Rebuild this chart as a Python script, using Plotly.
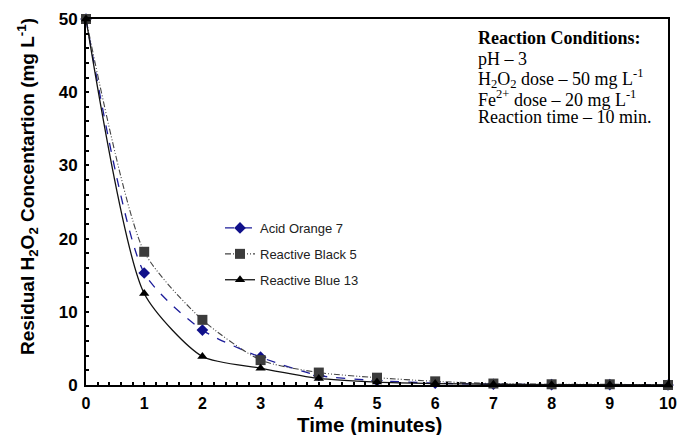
import plotly.graph_objects as go

time_min = [0, 1, 2, 3, 4, 5, 6, 7, 8, 9, 10]
acid_orange_7 = [50, 15.3, 7.5, 3.8, 1.3, 0.6, 0.25, 0.1, 0.05, 0.05, 0.0]
reactive_black_5 = [50, 18.2, 8.9, 3.4, 1.7, 1.0, 0.5, 0.2, 0.1, 0.1, 0.0]
reactive_blue_13 = [50, 12.5, 3.9, 2.3, 0.9, 0.4, 0.2, 0.1, 0.05, 0.05, 0.0]

x_ticks = [0, 1, 2, 3, 4, 5, 6, 7, 8, 9, 10]
y_ticks = [0, 10, 20, 30, 40, 50]

conditions = [
    "<b>Reaction Conditions:</b>",
    "pH – 3",
    "H<sub>2</sub>O<sub>2</sub> dose – 50 mg L<sup>-1</sup>",
    "Fe<sup>2+</sup> dose – 20 mg L<sup>-1</sup>",
    "Reaction time – 10 min.",
]

W, H = 679, 435
# plot area in screen pixels
L, R, T, B = 86, 668, 19, 385
PW, PH = R - L, B - T
SMOOTH = 0.65


def px(xs):
    return (xs - L) / PW


def py(ys):
    return (B - ys) / PH


fig = go.Figure()
fig.add_trace(go.Scatter(
    x=time_min, y=acid_orange_7, name="Acid Orange 7", mode="lines+markers", legendgroup="a",
    line=dict(color="#1c1c9a", width=1.3, dash="dash", shape="spline", smoothing=SMOOTH),
    marker=dict(symbol="diamond", size=9, color="#10108a"), cliponaxis=False))
fig.add_trace(go.Scatter(
    x=time_min, y=reactive_black_5, name="Reactive Black 5", mode="lines+markers", legendgroup="b",
    line=dict(color="#444444", width=1.1, dash="6px,2px,1px,2px,1px,2px", shape="spline", smoothing=SMOOTH),
    marker=dict(symbol="square", size=10, color="#3c3c3c"), cliponaxis=False))
fig.add_trace(go.Scatter(
    x=time_min, y=reactive_blue_13, name="Reactive Blue 13", mode="lines+markers", legendgroup="c",
    line=dict(color="#111111", width=1.3, shape="spline", smoothing=SMOOTH),
    marker=dict(symbol="triangle-up", size=9, color="#000000"), cliponaxis=False))

fig.update_layout(
    width=W, height=H,
    margin=dict(l=L, r=W - R, t=T, b=H - B, autoexpand=False),
    paper_bgcolor="white", plot_bgcolor="white",
    font=dict(family="Liberation Sans, Arial", color="black"),
    showlegend=True,
    legend=dict(x=px(220), y=py(213), xanchor="left", yanchor="top",
                bgcolor="rgba(0,0,0,0)", font=dict(size=13, color="#222"),
                tracegroupgap=6, itemwidth=30, traceorder="grouped"),
    xaxis=dict(range=[0, 10], tickvals=x_ticks, ticks="inside", ticklen=0,
               showline=True, linecolor="black", linewidth=2, mirror=True,
               showgrid=False, zeroline=False, automargin=False, ticklabelstandoff=3,
               ticklabeloverflow="allow",
               tickfont=dict(size=16, family="Liberation Sans, Arial", weight="bold"),
               minor=dict(dtick=0.2, ticks="inside", ticklen=3, tickcolor="black", tickwidth=2)),
    yaxis=dict(range=[0, 50], tickvals=y_ticks, ticks="inside", ticklen=0,
               showline=True, linecolor="black", linewidth=2, mirror=True,
               showgrid=False, zeroline=False, automargin=False, ticklabelstandoff=3,
               ticklabeloverflow="allow",
               tickfont=dict(size=17, family="Liberation Sans, Arial", weight="bold"),
               minor=dict(dtick=2, ticks="inside", ticklen=3, tickcolor="black", tickwidth=2)),
)

# axis titles
fig.add_annotation(xref="paper", yref="paper", x=px(369), y=py(425),
                   xanchor="center", yanchor="middle", showarrow=False,
                   text="<b>Time (minutes)</b>",
                   font=dict(size=20.5, family="Liberation Sans, Arial", color="black"))
fig.add_annotation(xref="paper", yref="paper", x=px(28), y=py(187),
                   xanchor="center", yanchor="middle", showarrow=False, textangle=-90,
                   text="<b>Residual H<sub>2</sub>O<sub>2</sub> Concentartion (mg L<sup>-1</sup>)</b>",
                   font=dict(size=19, family="Liberation Sans, Arial", color="black"))

# reaction conditions text
line_y = [38, 59, 79, 98, 117]
for txt, yy in zip(conditions, line_y):
    fig.add_annotation(xref="paper", yref="paper", x=px(476), y=py(yy),
                       xanchor="left", yanchor="middle", align="left", showarrow=False,
                       font=dict(family="Liberation Serif, Times New Roman", size=18, color="black"),
                       text=txt)

fig.write_html("out.html",
               config={"displayModeBar": False},
               post_script="document.body.style.margin='0';"
                           "document.documentElement.style.overflow='hidden';")
